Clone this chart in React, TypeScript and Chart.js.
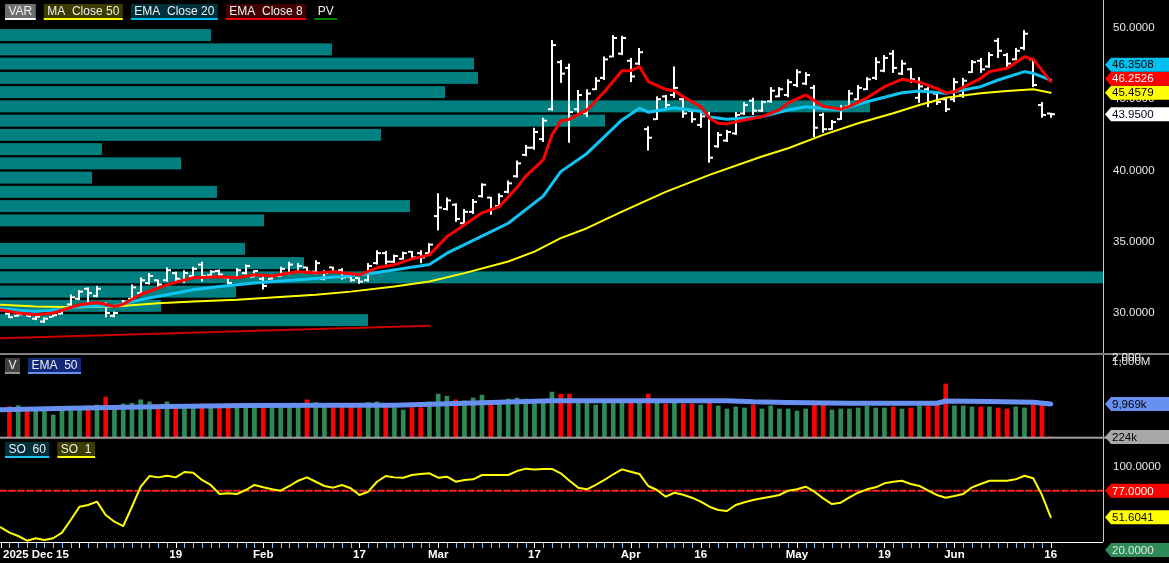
import { useEffect, useRef } from "react";
import { Chart, registerables } from "chart.js";

Chart.register(...registerables);

const W = 1169;
const H = 563;
const AXIS_W = 66;
const PLOT_R = W - AXIS_W;
const FONT = '"Liberation Sans", Arial, sans-serif';

// daily bars, slot 1..120 (slot 0 = 2025 Dec 15, just off the left edge)
const opens = [
  29.95, 29.8, 29.95, 29.6, 29.4, 29.72, 29.95, 30.6, 31.0, 31.7,
  31.2, 30.6, 29.8, 30.5, 31.0, 31.4, 32.1, 32.3, 32.3, 32.8,
  32.3, 32.6, 33.4, 32.65, 32.95, 32.5, 32.5, 32.8, 32.55, 32.4,
  32.4, 32.6, 32.8, 32.9, 33.2, 32.9, 32.4, 33.2, 33.0, 32.55,
  32.45, 32.3, 33.5, 34.2, 33.6, 33.8, 34.3, 34.2, 34.2, 36.8,
  37.3, 37.6, 36.3, 37.1, 38.2, 38.1, 37.5, 38.5, 39.6, 41.1,
  41.6, 42.2, 44.3, 47.6, 47.2, 44.3, 44.0, 45.7, 46.5, 48.0,
  48.2, 47.7, 47.5, 42.9, 43.6, 45.2, 45.3, 45.0, 44.2, 43.2,
  43.9, 41.7, 42.1, 42.6, 44.0, 44.9, 44.2, 44.85, 45.2, 45.3,
  46.0, 46.1, 45.8, 43.9, 42.9, 43.6, 44.5, 45.0, 45.7, 46.5,
  47.0, 48.2, 46.8, 47.1, 45.1, 45.7, 45.4, 45.0, 45.0, 45.3,
  46.9, 47.7, 47.3, 49.1, 48.1, 47.8, 48.6, 47.8, 44.6, 44.0,
];
const highs = [
  30.0, 29.95, 30.0, 29.85, 29.7, 29.9, 30.5, 31.3, 31.6, 31.8,
  31.9, 30.75, 30.1, 30.9, 32.0, 32.5, 32.8, 32.35, 33.2, 32.9,
  33.0, 33.25, 33.6, 33.0, 33.05, 32.55, 33.15, 33.4, 33.0, 32.55,
  32.7, 33.25, 33.6, 33.5, 33.25, 33.7, 33.0, 33.25, 33.15, 32.6,
  32.5, 33.5, 34.4, 34.35, 34.1, 34.3, 34.35, 34.4, 34.9, 38.4,
  38.1, 37.7, 37.3, 38.0, 39.1, 38.15, 38.4, 39.3, 40.7, 41.8,
  43.0, 43.7, 49.15, 47.75, 47.5, 45.65, 45.7, 46.55, 48.0, 49.5,
  49.45, 47.9, 48.6, 43.1, 45.2, 45.3, 47.3, 45.15, 44.25, 44.05,
  44.1, 42.7, 42.85, 44.1, 44.8, 45.1, 44.9, 45.85, 45.85, 46.4,
  47.1, 46.9, 46.0, 44.05, 43.55, 44.6, 45.65, 46.0, 46.55, 47.95,
  48.1, 48.45, 47.75, 47.2, 46.55, 45.85, 45.5, 45.15, 46.5, 46.5,
  47.75, 47.9, 48.3, 49.3, 48.25, 48.6, 49.85, 47.9, 44.8, 44.05,
];
const lows = [
  29.65, 29.75, 29.75, 29.5, 29.3, 29.7, 29.9, 30.5, 30.9, 30.7,
  31.1, 29.7, 29.7, 30.45, 30.9, 31.2, 32.0, 31.85, 32.2, 32.2,
  32.1, 32.5, 32.2, 32.6, 32.6, 32.0, 32.45, 32.7, 32.5, 31.65,
  32.35, 32.55, 32.7, 32.8, 32.8, 32.7, 32.3, 32.8, 32.35, 32.2,
  32.05, 32.2, 33.4, 33.4, 33.5, 33.75, 33.75, 33.5, 34.1, 35.8,
  37.2, 36.4, 36.2, 36.95, 38.1, 36.9, 37.4, 38.4, 39.5, 41.0,
  41.45, 42.0, 44.2, 46.15, 41.95, 44.05, 43.75, 45.65, 46.35, 47.95,
  48.1, 46.2, 47.4, 41.4, 43.55, 44.4, 45.1, 43.7, 43.35, 43.0,
  40.55, 41.6, 42.0, 42.5, 43.9, 43.9, 44.1, 44.75, 45.15, 45.15,
  45.85, 46.0, 42.35, 42.65, 42.85, 43.55, 44.45, 44.95, 45.65, 46.35,
  46.9, 46.85, 46.7, 46.15, 44.75, 44.45, 44.6, 44.1, 44.8, 45.1,
  46.85, 46.85, 47.2, 47.9, 47.25, 47.75, 48.45, 45.85, 43.7, 43.7,
];
const closes = [
  29.7, 29.9, 29.78, 29.75, 29.6, 29.85, 30.4, 31.1, 31.5, 31.4,
  31.7, 30.0, 30.0, 30.8, 31.8, 32.3, 32.6, 32.0, 33.0, 32.4,
  32.8, 33.1, 32.6, 32.9, 32.7, 32.1, 33.0, 33.3, 32.95, 31.9,
  32.6, 33.1, 33.4, 33.3, 32.9, 33.5, 32.8, 32.9, 32.5, 32.3,
  32.2, 33.3, 34.2, 33.6, 34.0, 34.2, 33.9, 33.9, 34.8, 37.4,
  37.9, 36.6, 37.1, 37.8, 39.0, 37.3, 38.2, 39.1, 40.5, 41.6,
  42.7, 43.5, 48.8, 46.8, 44.1, 45.3, 45.4, 46.3, 47.8, 49.3,
  49.3, 46.6, 48.3, 42.3, 45.0, 44.6, 45.8, 44.0, 43.6, 43.8,
  40.9, 42.5, 42.7, 43.9, 44.6, 44.2, 44.8, 45.6, 45.7, 46.2,
  46.9, 46.7, 43.0, 42.9, 43.4, 44.4, 45.4, 45.8, 46.4, 47.6,
  47.9, 47.2, 47.5, 46.4, 45.9, 44.8, 44.8, 44.3, 46.2, 46.3,
  47.6, 47.1, 48.1, 48.4, 47.5, 48.4, 49.6, 46.0, 43.9, 43.95,
];
// millions of shares, slot 1..120
const volumes = [
  9.2, 9.5, 8.7, 9.0, 8.7, 6.7, 8.7, 8.7, 8.4, 9.4,
  9.7, 12.0, 8.7, 10.0, 10.2, 11.2, 10.6, 8.7, 10.6, 8.7,
  8.7, 8.7, 10.0, 8.7, 8.7, 8.7, 8.7, 9.2, 9.7, 9.2,
  9.2, 9.2, 9.2, 9.2, 11.2, 10.4, 9.2, 9.2, 9.2, 9.2,
  9.2, 10.4, 10.6, 9.2, 8.9, 8.2, 8.9, 8.9, 10.6, 12.9,
  12.3, 11.2, 10.9, 11.75, 12.6, 9.7, 10.4, 11.45, 11.75, 11.45,
  10.4, 10.7, 13.5, 12.9, 12.9, 10.2, 10.8, 9.7, 10.8, 10.7,
  10.7, 10.7, 10.7, 12.9, 10.4, 10.0, 10.7, 10.0, 10.0, 9.7,
  10.4, 9.4, 8.5, 9.1, 8.8, 9.7, 8.5, 9.4, 8.5, 8.5,
  7.9, 8.5, 9.7, 9.7, 8.2, 8.5, 8.5, 8.8, 9.4, 8.8,
  8.8, 9.1, 8.5, 8.8, 9.4, 9.4, 9.7, 15.9, 9.4, 9.4,
  9.1, 9.1, 9.1, 8.8, 8.5, 9.1, 8.8, 9.7, 9.7, 0.224,
];
// SO 1, slot 0..120
const oscValues = [
  41.9, 36.7, 33.5, 29.0, 31.3, 29.6, 31.3, 36.7, 48.9, 61.7,
  63.4, 66.6, 53.7, 47.3, 43.1, 61.7, 81.0, 91.3, 90.0, 91.6,
  90.0, 95.2, 94.5, 87.5, 82.7, 74.0, 74.6, 74.0, 77.8, 82.7,
  80.4, 78.5, 77.2, 81.7, 86.8, 90.0, 85.8, 81.7, 80.1, 82.7,
  79.5, 73.0, 76.2, 85.8, 91.3, 90.0, 89.7, 92.3, 93.3, 93.9,
  89.7, 90.7, 85.8, 87.5, 88.1, 92.3, 92.3, 92.3, 92.3, 96.1,
  98.4, 97.7, 98.1, 98.1, 93.9, 86.8, 80.1, 78.5, 82.7, 87.5,
  93.0, 97.7, 95.5, 93.3, 81.7, 77.8, 71.4, 75.2, 73.3, 70.4,
  66.6, 61.7, 58.6, 57.6, 63.4, 66.0, 68.2, 69.8, 71.4, 73.0,
  77.2, 78.5, 81.0, 76.2, 69.8, 64.3, 65.6, 70.8, 75.2, 78.5,
  80.4, 84.3, 85.8, 86.8, 83.6, 81.7, 77.2, 73.0, 70.4, 72.0,
  74.0, 80.4, 83.6, 86.8, 86.8, 86.8, 88.1, 91.6, 89.1, 73.0,
  51.6041,
];

const ema8Idx = [0, 2, 4, 6, 9, 11, 13, 14, 16, 19, 22, 25, 27, 29, 31, 34, 36, 38, 41, 43, 45, 47, 49, 51, 53, 55, 57, 59, 60, 62, 63, 64, 65, 67, 69, 71, 72, 73, 74, 76, 77, 78, 80, 81, 82, 83, 85, 87, 89, 90, 92, 94, 96, 97, 99, 101, 103, 105, 107, 108, 109, 110, 112, 113, 115, 117, 118, 120];
const ema8Val = [30.22, 30.0, 29.88, 30.0, 30.58, 30.74, 30.46, 30.62, 31.3, 31.98, 32.47, 32.54, 32.47, 32.68, 32.6, 32.91, 32.8, 32.9, 32.68, 33.17, 33.38, 33.8, 34.08, 35.36, 36.19, 37.03, 37.47, 38.8, 39.6, 40.74, 42.5, 43.48, 43.6, 44.25, 45.53, 47.0, 47.0, 47.29, 46.24, 45.7, 45.6, 45.18, 44.48, 43.67, 43.32, 43.27, 43.55, 43.78, 44.25, 44.75, 45.3, 44.5, 44.3, 44.5, 45.1, 45.88, 46.4, 46.2, 45.75, 45.46, 45.53, 45.85, 46.47, 46.94, 47.17, 47.99, 47.8, 46.2526];
const ema20Idx = [0, 2, 4, 7, 9, 13, 16, 19, 22, 25, 29, 34, 39, 41, 43, 49, 51, 55, 58, 62, 64, 67, 69, 71, 73, 74, 77, 80, 81, 83, 87, 90, 92, 96, 99, 103, 105, 108, 112, 114, 117, 118, 120];
const ema20Val = [30.3, 30.2, 30.1, 30.25, 30.46, 30.5, 30.95, 31.28, 31.63, 31.86, 32.1, 32.33, 32.56, 32.68, 32.84, 33.4, 34.2, 35.4, 36.3, 38.2, 39.92, 41.2, 42.38, 43.55, 44.37, 44.09, 44.41, 44.15, 43.75, 43.6, 43.78, 44.25, 44.48, 44.25, 44.83, 45.46, 45.58, 45.42, 45.88, 46.35, 46.94, 46.82, 46.3508];
const ma50Idx = [0, 4, 9, 13, 18, 22, 27, 31, 36, 40, 45, 49, 53, 58, 61, 64, 67, 71, 76, 81, 87, 90, 94, 98, 102, 105, 108, 112, 115, 118, 120];
const ma50Val = [30.58, 30.46, 30.41, 30.46, 30.69, 30.81, 30.93, 31.09, 31.28, 31.5, 31.86, 32.21, 32.8, 33.61, 34.31, 35.25, 35.95, 37.12, 38.5, 39.69, 40.98, 41.56, 42.5, 43.32, 44.02, 44.6, 45.11, 45.42, 45.58, 45.7, 45.4579];
const volEmaIdx = [0, 8, 19, 28, 38, 45, 50, 56, 63, 71, 83, 86, 90, 97, 107, 108, 113, 118, 120];
const volEmaVal = [8.3, 8.7, 9.2, 9.5, 9.6, 9.6, 10.0, 10.4, 10.9, 10.95, 10.95, 10.6, 10.4, 10.2, 10.2, 10.85, 10.7, 10.5, 9.969];
const pvIdx = [0, 49];
const pvVal = [28.22, 29.11];

// volume at price (millions), one row per dollar
const profileLevels = [49.5, 48.5, 47.5, 46.5, 45.5, 44.5, 43.5, 42.5, 41.5, 40.5, 39.5, 38.5, 37.5, 36.5, 35.5, 34.5, 33.5, 32.5, 31.5, 30.5, 29.5];
const profileVolume = [21.1, 33.2, 47.4, 47.8, 44.5, 87.0, 60.5, 38.1, 10.2, 18.1, 9.2, 21.7, 41.0, 26.4, 0, 24.5, 30.4, 125, 23.6, 16.1, 36.8];

const priceTicks = [30, 35, 40, 45, 50];
const volAxisLabels = ["2,000", "1,000M"];
const OSC_REF = 77;
const OSC_TOP = 100;
const OSC_FLOOR = 20;

const xMajorIdx = [0, 9, 20, 30, 41, 50, 61, 72, 80, 91, 101, 109, 120];
const xMajorText = ["2025 Dec 15", "", "19", "Feb", "17", "Mar", "17", "Apr", "16", "May", "19", "Jun", "16"];

// slot i sits at 0.7 + 8.75 * i px
const X_MIN = -0.08;
const X_MAX = X_MIN + PLOT_R / 8.75;

// panels share one chart area; each value axis spans the full height
function span(v1: number, p1: number, v2: number, p2: number) {
  const s = (v2 - v1) / (p2 - p1);
  return { min: v1 + (H - p1) * s, max: v1 - p1 * s };
}
const priceRange = span(50, 28, 30, 313);
const volRange = span(0, 437.7, 10, 403.9);
const oscRange = span(100, 467, 20, 550);

const PRICE_BOTTOM = 353;
const VOL_TOP = 355;
const VOL_BASE = 437.7;
const OSC_BOTTOM = 542;

const pts = (idx: number[], val: number[]) => idx.map((x, k) => ({ x, y: val[k] }));
const barSlots = closes.map((_, k) => k + 1);
const last = (a: number[]) => a[a.length - 1];
const fmtVol = (v: number) => `${Math.round(v * 1000).toLocaleString("en-US")}k`;

function drawTag(ctx: CanvasRenderingContext2D, yc: number, text: string, bg: string, fg: string) {
  const left = PLOT_R + 2;
  const h = 14;
  ctx.fillStyle = bg;
  ctx.beginPath();
  ctx.moveTo(left, yc);
  ctx.lineTo(left + 6, yc - h / 2);
  ctx.lineTo(W, yc - h / 2);
  ctx.lineTo(W, yc + h / 2);
  ctx.lineTo(left + 6, yc + h / 2);
  ctx.closePath();
  ctx.fill();
  ctx.fillStyle = fg;
  ctx.font = `11.5px ${FONT}`;
  ctx.textAlign = "left";
  ctx.textBaseline = "middle";
  ctx.fillText(text, left + 7, yc + 0.5);
}

function drawLegend(ctx: CanvasRenderingContext2D, x: number, y: number, items: string[][]) {
  ctx.font = `12px ${FONT}`;
  ctx.textAlign = "left";
  ctx.textBaseline = "middle";
  for (const [text, bg, line] of items) {
    const w = ctx.measureText(text).width + 7;
    if (bg) {
      ctx.fillStyle = bg;
      ctx.fillRect(x, y, w, 14);
    }
    ctx.fillStyle = line;
    ctx.fillRect(x, y + 14, w, 2);
    ctx.fillStyle = "#f0f0f0";
    ctx.fillText(text, x + 3.5, y + 7.5);
    x += w + 8;
  }
}

const backdrop = {
  id: "backdrop",
  beforeDraw(chart: any) {
    const { ctx, width, height } = chart;
    ctx.save();
    ctx.fillStyle = "#000";
    ctx.fillRect(0, 0, width, height);
    ctx.restore();
  },
};

const priceMarks = {
  id: "priceMarks",
  beforeDatasetsDraw(chart: any) {
    const { ctx, scales } = chart;
    const x = scales.x;
    const y = scales.y;
    const xp = scales.xp;
    ctx.save();
    ctx.beginPath();
    ctx.rect(0, 0, PLOT_R, PRICE_BOTTOM);
    ctx.clip();

    ctx.fillStyle = "#008080";
    profileLevels.forEach((lv, k) => {
      const v = profileVolume[k];
      if (!v) return;
      const top = y.getPixelForValue(lv + 0.42);
      const bot = y.getPixelForValue(lv - 0.42);
      const x0 = xp.getPixelForValue(0);
      ctx.fillRect(x0, top, xp.getPixelForValue(v) - x0, bot - top);
    });

    ctx.fillStyle = "#ffffff";
    barSlots.forEach((slot, k) => {
      const px = Math.round(x.getPixelForValue(slot)) - 1;
      const hi = y.getPixelForValue(highs[k]);
      const lo = y.getPixelForValue(lows[k]);
      ctx.fillRect(px, hi, 2, Math.max(2, lo - hi));
      const yo = y.getPixelForValue(opens[k]);
      const yc = y.getPixelForValue(closes[k]);
      ctx.fillRect(px - 3, yo - 1, 3, 2);
      ctx.fillRect(px + 2, yc - 1, 3, 2);
    });
    ctx.restore();
  },
};

const overlay = {
  id: "overlay",
  afterDraw(chart: any) {
    const { ctx, scales } = chart;
    const x = scales.x;
    const y = scales.y;
    const yv = scales.yv;
    const yo = scales.yo;
    ctx.save();

    // panel frames
    ctx.fillStyle = "#c8c8c8";
    ctx.fillRect(PLOT_R, 0, 1, OSC_BOTTOM);
    ctx.fillStyle = "#808080";
    ctx.fillRect(0, PRICE_BOTTOM, W, 2);
    ctx.fillStyle = "#a0a0a0";
    ctx.fillRect(0, VOL_BASE - 1, W, 2);
    ctx.fillStyle = "#ffffff";
    ctx.fillRect(0, OSC_BOTTOM, PLOT_R, 1);

    // right axis labels
    ctx.font = `11.5px ${FONT}`;
    ctx.textAlign = "left";
    ctx.textBaseline = "middle";
    ctx.fillStyle = "#e8e8e8";
    priceTicks.forEach((v) => ctx.fillText(v.toFixed(4), PLOT_R + 10, y.getPixelForValue(v)));
    volAxisLabels.forEach((t, k) => ctx.fillText(t, PLOT_R + 9, VOL_TOP + 3 + k * 4));
    ctx.fillText(OSC_TOP.toFixed(4), PLOT_R + 10, yo.getPixelForValue(OSC_TOP));

    // price tags, pushed apart from the bottom up
    const tags = [
      { v: last(closes), bg: "#ffffff", fg: "#000020" },
      { v: last(ma50Val), bg: "#ffff00", fg: "#000000" },
      { v: last(ema8Val), bg: "#ff0000", fg: "#ffffff" },
      { v: last(ema20Val), bg: "#00c0f0", fg: "#000000" },
    ].map((t) => ({ ...t, py: y.getPixelForValue(t.v) }));
    tags.sort((a, b) => b.py - a.py);
    for (let k = 1; k < tags.length; k++) {
      tags[k].py = Math.min(tags[k].py, tags[k - 1].py - 14);
    }
    tags.forEach((t) => drawTag(ctx, t.py, t.v.toFixed(4), t.bg, t.fg));

    drawTag(ctx, yv.getPixelForValue(last(volEmaVal)), fmtVol(last(volEmaVal)), "#6890f0", "#000000");
    drawTag(ctx, yv.getPixelForValue(last(volumes)), fmtVol(last(volumes)), "#a8a8a8", "#000000");

    drawTag(ctx, yo.getPixelForValue(OSC_REF), OSC_REF.toFixed(4), "#ff0000", "#ffffff");
    drawTag(ctx, yo.getPixelForValue(last(oscValues)), last(oscValues).toFixed(4), "#ffff00", "#000000");
    drawTag(ctx, yo.getPixelForValue(OSC_FLOOR), OSC_FLOOR.toFixed(4), "#2e8b57", "#e8e8e8");

    // time axis
    for (let i = 0; i <= 120; i++) {
      ctx.fillStyle = xMajorIdx.includes(i) ? "#ffffff" : "#7ec8f8";
      ctx.fillRect(Math.round(x.getPixelForValue(i)), OSC_BOTTOM + 1, 1, 5);
    }
    ctx.font = `bold 11.5px ${FONT}`;
    ctx.fillStyle = "#ffffff";
    ctx.textAlign = "left";
    xMajorIdx.forEach((i, k) => {
      const t = xMajorText[k];
      if (!t) return;
      const w = ctx.measureText(t).width;
      const cx = x.getPixelForValue(i);
      ctx.fillText(t, Math.max(3, cx - w / 2), 555);
    });

    // legends
    drawLegend(ctx, 5, 4, [
      ["VAR", "#6e6e6e", "#ffffff"],
      ["MA  Close 50", "#3c3c00", "#ffff00"],
      ["EMA  Close 20", "#00303c", "#00c0f0"],
      ["EMA  Close 8", "#400000", "#ff0000"],
      ["PV", "", "#008000"],
    ]);
    drawLegend(ctx, 5, 358, [
      ["V", "#404040", "#909090"],
      ["EMA  50", "#10287a", "#6890f0"],
    ]);
    drawLegend(ctx, 5, 442, [
      ["SO  60", "#00303c", "#1ec8f0"],
      ["SO  1", "#3c3c00", "#ffff00"],
    ]);
    ctx.restore();
  },
};

const lineStyle = { pointRadius: 0, tension: 0, borderJoinStyle: "round", borderCapStyle: "round" };

export default function App() {
  const canvasRef = useRef<HTMLCanvasElement>(null);

  useEffect(() => {
    if (!canvasRef.current) return;
    const chart = new Chart(canvasRef.current, {
      type: "line",
      data: {
        datasets: [
          { ...lineStyle, data: pts(ema8Idx, ema8Val), yAxisID: "y", borderColor: "#ff0000", borderWidth: 3, order: 1 },
          { ...lineStyle, data: pts(ema20Idx, ema20Val), yAxisID: "y", borderColor: "#10c4f4", borderWidth: 3, order: 2 },
          { ...lineStyle, data: pts(ma50Idx, ma50Val), yAxisID: "y", borderColor: "#ffff00", borderWidth: 2, order: 3 },
          { ...lineStyle, data: pts(pvIdx, pvVal), yAxisID: "y", borderColor: "#cc0000", borderWidth: 2, order: 4 },
          {
            type: "bar",
            data: barSlots.map((s, k) => ({ x: s, y: volumes[k] })),
            yAxisID: "yv",
            backgroundColor: barSlots.map((_, k) => (closes[k] < opens[k] ? "#ff0000" : "#2e8b57")),
            barThickness: 4,
            order: 10,
          },
          { ...lineStyle, data: pts(volEmaIdx, volEmaVal), yAxisID: "yv", borderColor: "#6890f0", borderWidth: 5, order: 5 },
          { ...lineStyle, data: oscValues.map((v, i) => ({ x: i, y: v })), yAxisID: "yo", borderColor: "#ffff00", borderWidth: 2, order: 6 },
          {
            ...lineStyle,
            data: [{ x: X_MIN, y: OSC_REF }, { x: X_MAX, y: OSC_REF }],
            yAxisID: "yo",
            borderColor: "#ff2020",
            borderWidth: 2,
            borderDash: [6, 3],
            order: 7,
          },
        ] as any,
      },
      options: {
        responsive: true,
        maintainAspectRatio: false,
        animation: false,
        events: [],
        layout: { padding: { left: 0, top: 0, bottom: 0, right: AXIS_W } },
        scales: {
          x: { type: "linear", min: X_MIN, max: X_MAX, display: false, offset: false, grid: { offset: false } },
          xp: { type: "linear", axis: "x", min: 0, max: PLOT_R / 10, display: false },
          y: { type: "linear", ...priceRange, display: false },
          yv: { type: "linear", ...volRange, display: false, beginAtZero: false },
          yo: { type: "linear", ...oscRange, display: false },
        } as any,
        plugins: { legend: { display: false }, tooltip: { enabled: false } },
      },
      plugins: [backdrop, priceMarks, overlay],
    });
    return () => chart.destroy();
  }, []);

  return (
    <div style={{ position: "fixed", left: 0, top: 0, width: W, height: H, background: "#000" }}>
      <canvas ref={canvasRef} />
    </div>
  );
}
